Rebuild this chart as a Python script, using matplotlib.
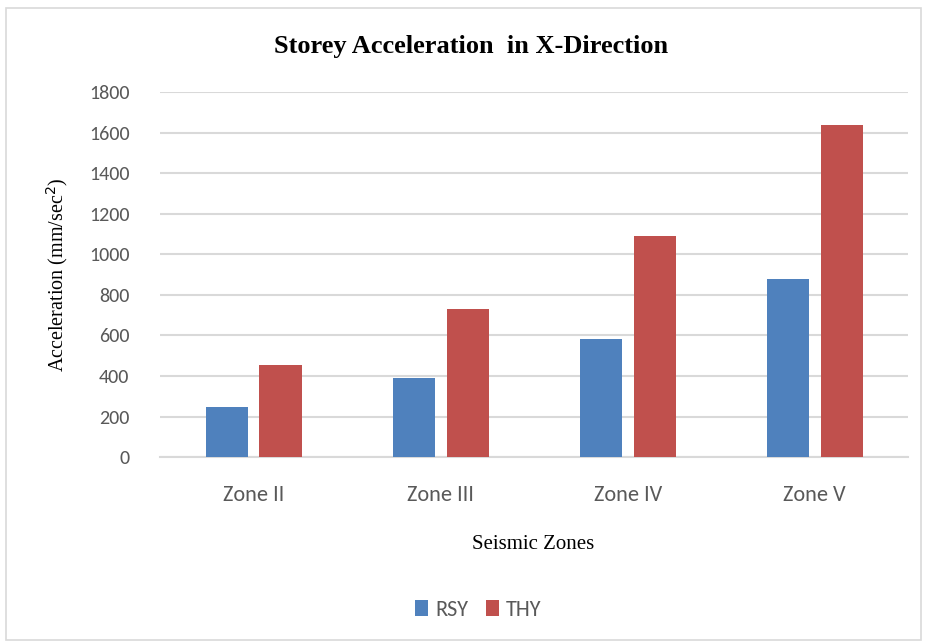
import numpy as np
import matplotlib.pyplot as plt
from matplotlib.patches import Rectangle

zones = ["Zone II", "Zone III", "Zone IV", "Zone V"]
rsy = [245, 390, 582, 878]
thy = [455, 730, 1091, 1638]

plt.rcParams['font.family'] = ['Carlito', 'Lato', 'DejaVu Sans']

fig = plt.figure(figsize=(9.25, 6.41), dpi=100)
fig.patches.append(Rectangle((0.006, 0.002), 0.99, 0.985, transform=fig.transFigure,
                             fill=False, edgecolor='#d9d9d9', linewidth=1.2))
ax = fig.add_axes([0.173, 0.287, 0.809, 0.569])

x = np.arange(len(zones))
w = 0.225
ax.bar(x - 0.144, rsy, w, color='#4f81bd', label='RSY', zorder=3)
ax.bar(x + 0.144, thy, w, color='#c0504d', label='THY', zorder=3)

ax.set_xlim(-0.5, 3.5)
ax.set_ylim(0, 1800)
ax.set_yticks(range(0, 1801, 200))
ax.set_xticks(x)
ax.set_xticklabels(zones)
ax.grid(axis='y', color='#d9d9d9', linewidth=1.5, zorder=0)
for s in ['top', 'right', 'left']:
    ax.spines[s].set_visible(False)
ax.spines['bottom'].set_color('#d9d9d9')
ax.spines['bottom'].set_linewidth(1.5)
ax.tick_params(axis='both', length=0, colors='#595959')
ax.tick_params(axis='y', pad=22, labelsize=14.5)
ax.tick_params(axis='x', pad=20, labelsize=16)

fig.text(0.509, 0.927, "Storey Acceleration  in X-Direction", ha='center', va='center',
         family='Liberation Serif', fontweight='bold', fontsize=19)
fig.text(0.062, 0.572, "Acceleration (mm/sec$^2$)", rotation=90, ha='center', va='center',
         family='Liberation Serif', fontsize=14.5)
fig.text(0.576, 0.151, "Seismic Zones", ha='center', va='center',
         family='Liberation Serif', fontsize=15)

fig.legend(loc='center', bbox_to_anchor=(0.517, 0.049), ncol=2, frameon=False,
           fontsize=16, labelcolor='#595959', handlelength=0.6, handleheight=0.7,
           handletextpad=0.3, columnspacing=0.8)

fig.savefig("out.png", dpi=100)
